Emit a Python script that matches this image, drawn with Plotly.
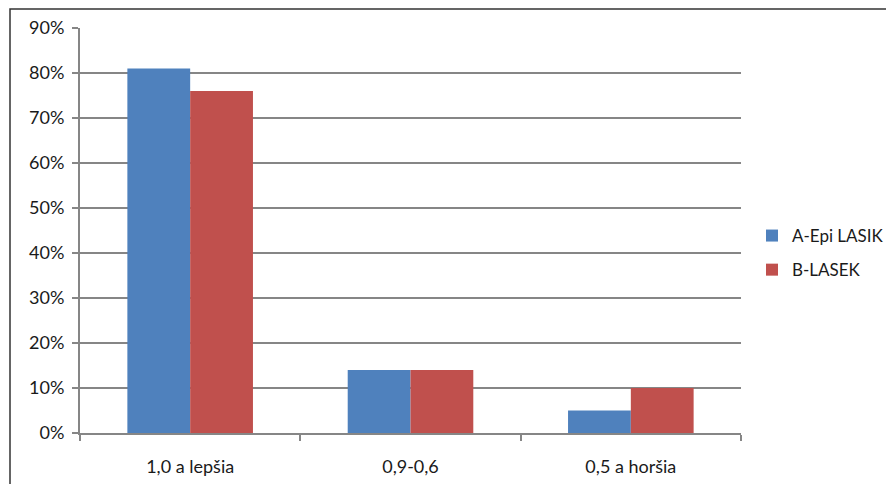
import plotly.graph_objects as go

categories = ["1,0 a lepšia", "0,9-0,6", "0,5 a horšia"]
series_a = [81, 14, 5]
series_b = [76, 14, 10]
series_names = ["A-Epi LASIK", "B-LASEK"]
y_ticks = [0, 10, 20, 30, 40, 50, 60, 70, 80, 90]
y_labels = [f"{v}%" for v in y_ticks]

OFF = 8  # page body margin
W, H = 894 - OFF, 484 - OFF
L, R, T, B = 80 - OFF, 894 - 741, 28 - OFF, 484 - 433
pw, ph = W - L - R, H - T - B

fig = go.Figure()
fig.add_trace(go.Bar(x=categories, y=series_a, name=series_names[0], legendgroup="a",
                     marker_color="#4F81BD", marker_line_width=0))
fig.add_trace(go.Bar(x=categories, y=series_b, name=series_names[1], legendgroup="b",
                     marker_color="#C0504D", marker_line_width=0))

def px_x(p):
    return (p - OFF - L) / pw

def px_y(p):
    return (H - B - (p - OFF)) / ph

fig.update_layout(
    width=W, height=H,
    margin=dict(l=L, r=R, t=T, b=B, autoexpand=False),
    paper_bgcolor="white", plot_bgcolor="white",
    barmode="group", bargap=0.43, bargroupgap=0,
    font=dict(family="Lato", size=18, color="#1a1a1a"),
    showlegend=True,
    legend=dict(x=px_x(752), y=px_y(218), xanchor="left", yanchor="top",
                font=dict(size=17), itemwidth=30, tracegroupgap=9, bgcolor="rgba(0,0,0,0)"),
    xaxis=dict(showgrid=False, showline=True, linecolor="#868686", linewidth=2,
               ticks="outside", tickson="boundaries", ticklen=6, tickcolor="#868686", tickwidth=2,
               ticklabelstandoff=16, tickfont=dict(size=18), automargin=False),
    yaxis=dict(range=[0, 90], tickvals=y_ticks, ticktext=y_labels,
               showgrid=True, gridcolor="#868686", gridwidth=2,
               showline=True, linecolor="#868686", linewidth=2,
               ticks="outside", ticklen=6, tickcolor="#868686", tickwidth=2,
               ticklabelstandoff=4, automargin=False,
               zeroline=False, tickfont=dict(size=18)),
    shapes=[dict(type="rect", xref="paper", yref="paper",
                 x0=px_x(10), x1=px_x(910), y0=px_y(500), y1=px_y(9),
                 line=dict(color="#333333", width=1.5), fillcolor="rgba(0,0,0,0)", layer="below")],
)

fig.write_html("out.html")
